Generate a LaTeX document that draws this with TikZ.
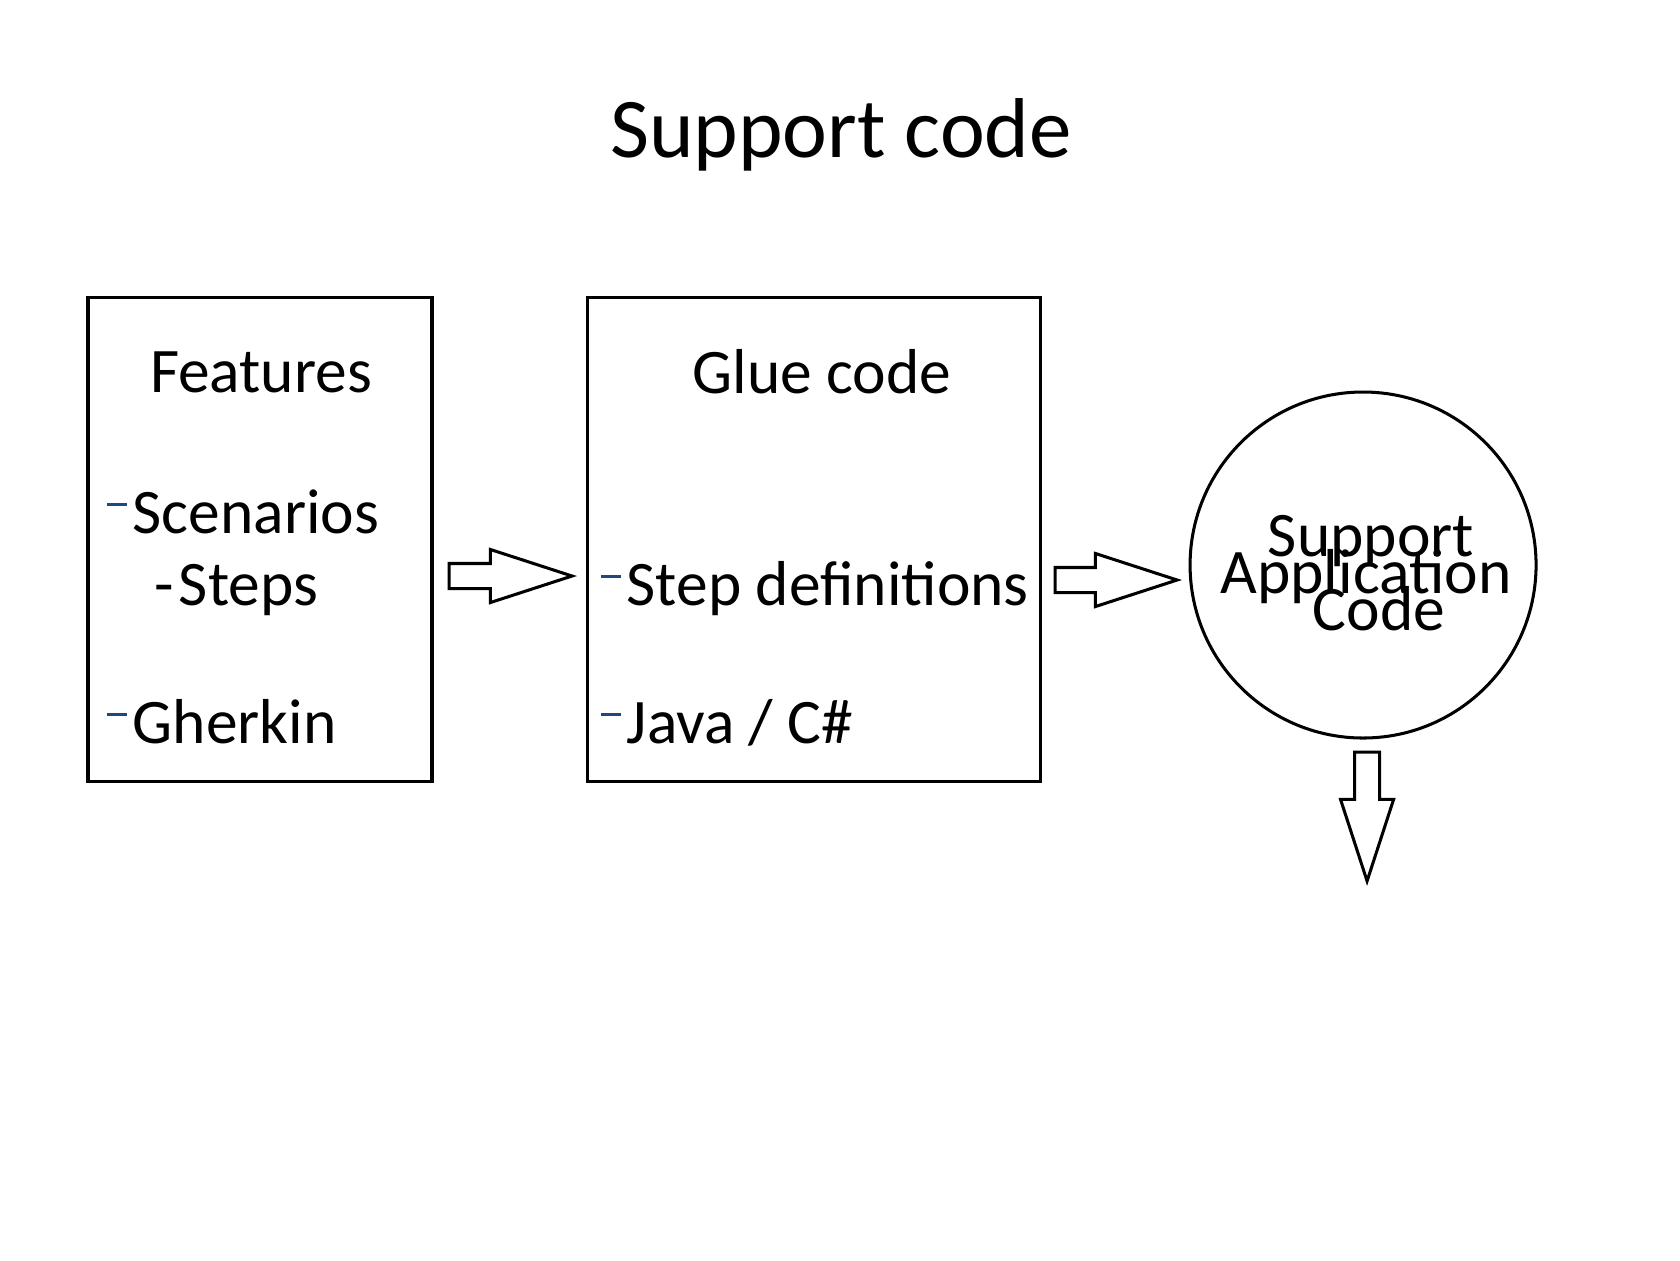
\documentclass[tikz,border=0pt]{standalone}
\usepackage{fontspec}
\setmainfont{Carlito}
\usepackage{tikz}
\usetikzlibrary{positioning, shapes.arrows, calc}
\definecolor{BulletBlue}{RGB}{31, 73, 125}
\newdimen\px \px=0.428571pt
\newcommand{\bul}{{\color{BulletBlue}\rule[0.42em]{0.31em}{0.05em}}\hspace{0.09em}}
\tikzset{
  box/.style={rectangle, draw=black, line width=1.3pt, fill=white,
              minimum width=#1, minimum height=484\px, inner sep=0pt},
  ring/.style={circle, draw=black, line width=1.3pt,
               minimum size=346\px, inner sep=0pt},
  head/.style={font=\fontsize{27.2}{33}\selectfont, inner sep=0pt, anchor=base},
  item/.style={font=\fontsize{27.2}{33}\selectfont, inner sep=0pt, anchor=base west},
  ringtxt/.style={font=\fontsize{27.2}{33}\selectfont, inner sep=0pt, anchor=base},
  blockarr/.style={single arrow, draw=black, line width=1.3pt, fill=white,
                   minimum height=#1, inner xsep=0pt, inner ysep=11\px,
                   single arrow head extend=14\px, single arrow tip angle=36,
                   single arrow head indent=0pt, anchor=tail},
}
\begin{document}
\begin{tikzpicture}[x=1\px, y=-1\px]
  \useasboundingbox (0,0) rectangle (1680,1260);
  \node[font=\fontsize{36.4}{44}\selectfont, inner sep=0pt, anchor=base] (title) at (841,157) {Support code};
  % boxes
  \node[box=344\px] (feat) at (260,539) {};
  \node[box=453\px, right=152\px of feat] (glue) {};
  \node[ring, right=147\px of glue, yshift=-26\px] (app) {};
  % texts in the boxes
  \node[head] (feathead) at (261,392) {Features};
  \node[item] (scen) at (107,533) {\bul Scenarios};
  \node[item] (steps) at (154,605) {-\hspace{0.08em}Steps};
  \node[item] (gherkin) at (107,743) {\bul Gherkin};
  \node[head] (gluehead) at (822,393) {Glue code};
  \node[item] (stepdef) at (601,605) {\bul Step definitions};
  \node[item] (java) at (601,743) {\bul Java / C\#};
  \node[ringtxt] (support) at (1371,556) {Support};
  \node[ringtxt] (appl) at (1366,593) {Application};
  \node[ringtxt] (code) at (1379,630) {Code};
  % arrows
  \node[blockarr=123\px] (a1) at ($(feat.east)+(14,37)$) {};
  \node[blockarr=122\px] (a2) at ($(glue.east)+(12,41)$) {};
  \node[blockarr=129\px, rotate=-90] (a3) at ($(app.south)+(4,11)$) {};
\end{tikzpicture}
\end{document}
